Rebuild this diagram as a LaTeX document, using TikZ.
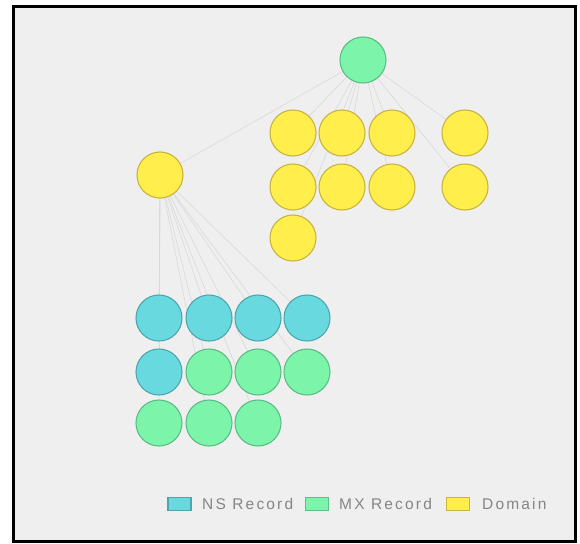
\documentclass[tikz,border=0pt]{standalone}
\usepackage{fontspec}
\setmainfont{Liberation Sans}
\newfontfamily\legendfont[LetterSpace=14]{Liberation Sans}
\definecolor{bgc}{HTML}{EFEFEF}
\definecolor{yfill}{HTML}{FFEE4C}
\definecolor{ydraw}{HTML}{C8B53E}
\definecolor{gfill}{HTML}{7CF4A9}
\definecolor{gdraw}{HTML}{5DBD87}
\definecolor{cfill}{HTML}{69D9E0}
\definecolor{cdraw}{HTML}{4EA6AD}
\definecolor{edgec}{HTML}{D9D9DD}
\definecolor{txtc}{HTML}{858585}
\pgfdeclarelayer{edgelayer}
\pgfsetlayers{edgelayer,main}
\tikzset{
  dom/.style={circle, minimum size=46pt, inner sep=0pt, fill=yfill, draw=ydraw, line width=1.1pt},
  mx/.style={circle, minimum size=46pt, inner sep=0pt, fill=gfill, draw=gdraw, line width=1.1pt},
  ns/.style={circle, minimum size=46pt, inner sep=0pt, fill=cfill, draw=cdraw, line width=1.1pt},
  edge/.style={draw=edgec, line width=0.6pt},
  legsq/.style={minimum width=23pt, minimum height=13pt, inner sep=0pt, line width=1.2pt},
  legtxt/.style={anchor=west, inner sep=0pt, text=txtc, font=\legendfont\fontsize{15.5}{18}\selectfont},
}
\begin{document}
\begin{tikzpicture}[x=1pt, y=-1pt]
\useasboundingbox (0,0) rectangle (580,543);
% nodes
\node[mx] (root) at (363,60) {};
\node[dom] (L) at (160,175) {};
\node[dom] (d1) at (293,133) {};
\node[dom] (d2) at (342,133) {};
\node[dom] (d3) at (392,133) {};
\node[dom] (d4) at (465,133) {};
\node[dom] (d5) at (293,187) {};
\node[dom] (d6) at (342,187) {};
\node[dom] (d7) at (392,187) {};
\node[dom] (d8) at (465,187) {};
\node[dom] (d9) at (293,238) {};
\node[ns] (n1) at (159,318) {};
\node[ns] (n2) at (209,318) {};
\node[ns] (n3) at (258,318) {};
\node[ns] (n4) at (307,318) {};
\node[ns] (n5) at (159,372) {};
\node[mx] (m1) at (209,372) {};
\node[mx] (m2) at (258,372) {};
\node[mx] (m3) at (307,372) {};
\node[mx] (m4) at (159,423) {};
\node[mx] (m5) at (209,423) {};
\node[mx] (m6) at (258,423) {};
% background and edges behind nodes
\begin{pgfonlayer}{edgelayer}
\fill[white] (0,0) rectangle (580,543);
\fill[bgc] (13,6) rectangle (575,541);
\foreach \t in {L,d1,d2,d3,d4,d5,d6,d7,d8,d9} {\draw[edge] (root) -- (\t);}
\foreach \t in {n1,n2,n3,n4,n5,m1,m2,m3,m4,m5,m6} {\draw[edge] (L) -- (\t);}
\end{pgfonlayer}
% legend
\node[legsq, fill=cfill, draw=cdraw] (k1) at (179.5,504) {};
\node[legtxt] (t1) at (202,504) {NS Record};
\node[legsq, fill=gfill, draw=gdraw] (k2) at (317,504) {};
\node[legtxt] (t2) at (339,504) {MX Record};
\node[legsq, fill=yfill, draw=ydraw] (k3) at (458,504) {};
\node[legtxt] (t3) at (482,504) {Domain};
% frame
\draw[black, line width=3pt] (13.5,6.5) rectangle (575.5,541.5);
\end{tikzpicture}
\end{document}
